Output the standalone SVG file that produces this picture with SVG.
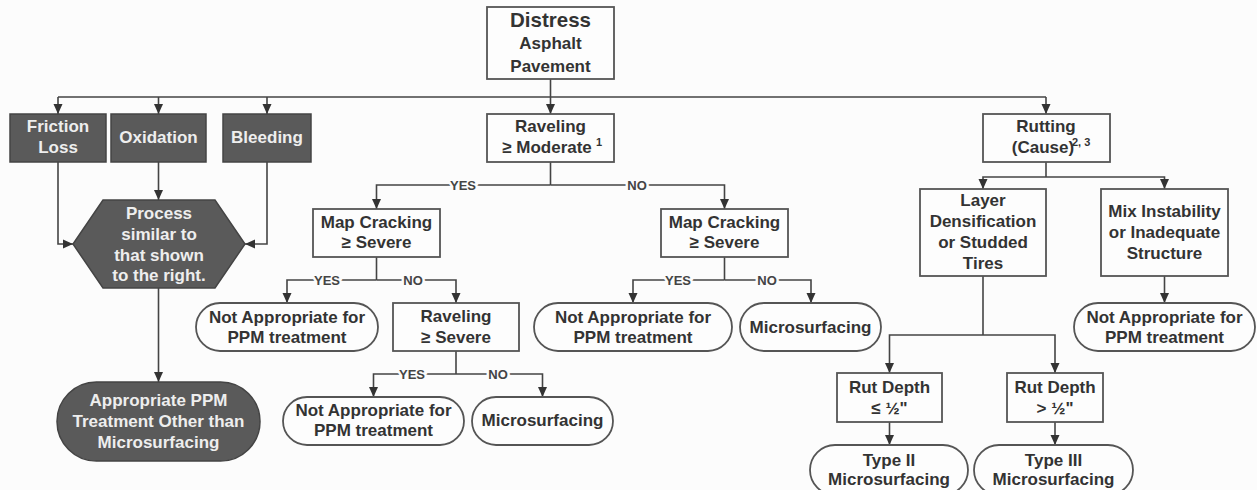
<svg xmlns="http://www.w3.org/2000/svg" width="1257" height="490" viewBox="0 0 1257 490">
<defs>
<style>
.bg{fill:#fcfcfc}
.box{fill:#fdfdfd;stroke:#555;stroke-width:1.8}
.dark{fill:#5a5a5a;stroke:#444;stroke-width:1.5}
.t{font-family:"Liberation Sans",Arial,sans-serif;font-weight:bold;font-size:17px;fill:#333;text-anchor:middle}
.tw{font-family:"Liberation Sans",Arial,sans-serif;font-weight:bold;font-size:17px;fill:#eeeeee;text-anchor:middle}
.big{font-size:20.5px}
.sup{font-family:"Liberation Sans",Arial,sans-serif;font-weight:bold;font-size:11px;fill:#333}
.lbl{font-family:"Liberation Sans",Arial,sans-serif;font-weight:bold;font-size:13px;fill:#444;text-anchor:middle;stroke:#fcfcfc;stroke-width:5;paint-order:stroke}
.ln{fill:none;stroke:#444;stroke-width:1.6}
.ar{fill:none;stroke:#444;stroke-width:1.6;marker-end:url(#ah)}
</style>
<marker id="ah" markerUnits="userSpaceOnUse" markerWidth="10" markerHeight="10" viewBox="0 0 10 10" refX="10" refY="5" orient="auto">
<path d="M0,0.5 L10,5 L0,9.5 Z" fill="#333"/>
</marker>
</defs>
<rect class="bg" x="0" y="0" width="1257" height="490"/>

<g id="connectors">
<path class="ar" d="M550.5,79 V114"/>
<path class="ln" d="M58,97 H1046"/>
<path class="ar" d="M58,97 V114"/>
<path class="ar" d="M158.5,97 V114"/>
<path class="ar" d="M267,97 V114"/>
<path class="ar" d="M1046,97 V114"/>
<path class="ar" d="M58,162 V244 H73"/>
<path class="ar" d="M158.5,162 V200"/>
<path class="ar" d="M267,162 V244 H245"/>
<path class="ar" d="M158.5,288 V382"/>
<path class="ln" d="M550.5,162 V185"/>
<path class="ar" d="M550.5,185 H376.5 V209"/>
<path class="ar" d="M550.5,185 H724.5 V209"/>
<path class="ln" d="M376.5,257 V280"/>
<path class="ar" d="M376.5,280 H287 V303"/>
<path class="ar" d="M376.5,280 H456 V303"/>
<path class="ln" d="M724.5,257 V280"/>
<path class="ar" d="M724.5,280 H633 V303"/>
<path class="ar" d="M724.5,280 H811 V303"/>
<path class="ln" d="M456,351 V374"/>
<path class="ar" d="M456,374 H373.5 V397"/>
<path class="ar" d="M456,374 H542.5 V397"/>
<path class="ln" d="M1046,162 V177"/>
<path class="ar" d="M1046,177 H983 V189"/>
<path class="ar" d="M1046,177 H1164.5 V189"/>
<path class="ar" d="M1164.5,276 V303"/>
<path class="ln" d="M983,276 V335"/>
<path class="ar" d="M983,335 H889.5 V373"/>
<path class="ar" d="M983,335 H1055 V373"/>
<path class="ar" d="M889.5,422 V445"/>
<path class="ar" d="M1055,422 V445"/>
<text class="lbl" x="463" y="190">YES</text>
<text class="lbl" x="637" y="190">NO</text>
<text class="lbl" x="327" y="285">YES</text>
<text class="lbl" x="413" y="285">NO</text>
<text class="lbl" x="678" y="285">YES</text>
<text class="lbl" x="767" y="285">NO</text>
<text class="lbl" x="412" y="379">YES</text>
<text class="lbl" x="498" y="379">NO</text>
</g>

<g id="distress">
<rect class="box" x="487" y="7" width="127" height="72"/>
<text class="t big" x="550.5" y="27">Distress</text>
<text class="t" x="550.5" y="49">Asphalt</text>
<text class="t" x="550.5" y="72">Pavement</text>
</g>

<g id="friction">
<rect class="dark" x="10" y="114" width="96" height="48"/>
<text class="tw" x="58" y="132">Friction</text>
<text class="tw" x="58" y="153">Loss</text>
</g>
<g id="oxidation">
<rect class="dark" x="111" y="114" width="95" height="48"/>
<text class="tw" x="158.5" y="143">Oxidation</text>
</g>
<g id="bleeding">
<rect class="dark" x="223" y="114" width="88" height="48"/>
<text class="tw" x="267" y="143">Bleeding</text>
</g>

<g id="process">
<polygon class="dark" points="103,200 215,200 245,244 215,288 103,288 73,244"/>
<text class="tw" x="159" y="219">Process</text>
<text class="tw" x="159" y="240">similar to</text>
<text class="tw" x="159" y="261">that shown</text>
<text class="tw" x="159" y="281">to the right.</text>
</g>

<g id="appropriate">
<rect class="dark" x="57" y="382" width="203" height="79" rx="39.5"/>
<text class="tw" x="158.5" y="406">Appropriate PPM</text>
<text class="tw" x="158.5" y="427">Treatment Other than</text>
<text class="tw" x="158.5" y="448">Microsurfacing</text>
</g>

<g id="raveling">
<rect class="box" x="487" y="114" width="127" height="48"/>
<text class="t" x="550.5" y="132">Raveling</text>
<text class="t" x="547" y="153">≥ Moderate</text>
<text class="sup" x="596" y="146">1</text>
</g>

<g id="mapcrack1">
<rect class="box" x="313" y="209" width="127" height="48"/>
<text class="t" x="376.5" y="228">Map Cracking</text>
<text class="t" x="376.5" y="248">≥ Severe</text>
</g>

<g id="mapcrack2">
<rect class="box" x="661" y="209" width="127" height="48"/>
<text class="t" x="724.5" y="228">Map Cracking</text>
<text class="t" x="724.5" y="248">≥ Severe</text>
</g>

<g id="na1">
<rect class="box" x="196" y="303" width="182" height="48" rx="24"/>
<text class="t" x="287" y="323">Not Appropriate for</text>
<text class="t" x="287" y="343">PPM treatment</text>
</g>

<g id="ravsevere">
<rect class="box" x="393" y="303" width="126" height="48"/>
<text class="t" x="456" y="322">Raveling</text>
<text class="t" x="456" y="343">≥ Severe</text>
</g>

<g id="na2">
<rect class="box" x="283" y="397" width="181" height="48" rx="24"/>
<text class="t" x="373.5" y="416">Not Appropriate for</text>
<text class="t" x="373.5" y="436">PPM treatment</text>
</g>

<g id="micro1">
<rect class="box" x="472" y="397" width="141" height="48" rx="24"/>
<text class="t" x="542.5" y="426">Microsurfacing</text>
</g>

<g id="na3">
<rect class="box" x="534" y="303" width="198" height="48" rx="24"/>
<text class="t" x="633" y="323">Not Appropriate for</text>
<text class="t" x="633" y="343">PPM treatment</text>
</g>

<g id="micro2">
<rect class="box" x="740" y="303" width="141" height="48" rx="24"/>
<text class="t" x="810.5" y="333">Microsurfacing</text>
</g>

<g id="rutting">
<rect class="box" x="983" y="114" width="127" height="48"/>
<text class="t" x="1046" y="132">Rutting</text>
<text class="t" x="1043" y="153">(Cause)</text>
<text class="sup" x="1072" y="146">2, 3</text>
</g>

<g id="layer">
<rect class="box" x="920" y="189" width="126" height="87"/>
<text class="t" x="983" y="206">Layer</text>
<text class="t" x="983" y="227">Densification</text>
<text class="t" x="983" y="248">or Studded</text>
<text class="t" x="983" y="269">Tires</text>
</g>

<g id="mix">
<rect class="box" x="1101" y="189" width="127" height="87"/>
<text class="t" x="1164.5" y="217">Mix Instability</text>
<text class="t" x="1164.5" y="238">or Inadequate</text>
<text class="t" x="1164.5" y="259">Structure</text>
</g>

<g id="na4">
<rect class="box" x="1074" y="303" width="181" height="48" rx="24"/>
<text class="t" x="1164.5" y="323">Not Appropriate for</text>
<text class="t" x="1164.5" y="343">PPM treatment</text>
</g>

<g id="rutle">
<rect class="box" x="837" y="373" width="105" height="49"/>
<text class="t" x="889.5" y="393">Rut Depth</text>
<text class="t" x="889.5" y="414">≤ ½"</text>
</g>

<g id="rutgt">
<rect class="box" x="1007" y="373" width="96" height="49"/>
<text class="t" x="1055" y="393">Rut Depth</text>
<text class="t" x="1055" y="414">&gt; ½"</text>
</g>

<g id="type2">
<rect class="box" x="810" y="445" width="158" height="50" rx="25"/>
<text class="t" x="889" y="466">Type II</text>
<text class="t" x="889" y="485">Microsurfacing</text>
</g>

<g id="type3">
<rect class="box" x="974" y="445" width="159" height="50" rx="25"/>
<text class="t" x="1053.5" y="466">Type III</text>
<text class="t" x="1053.5" y="485">Microsurfacing</text>
</g>
</svg>
